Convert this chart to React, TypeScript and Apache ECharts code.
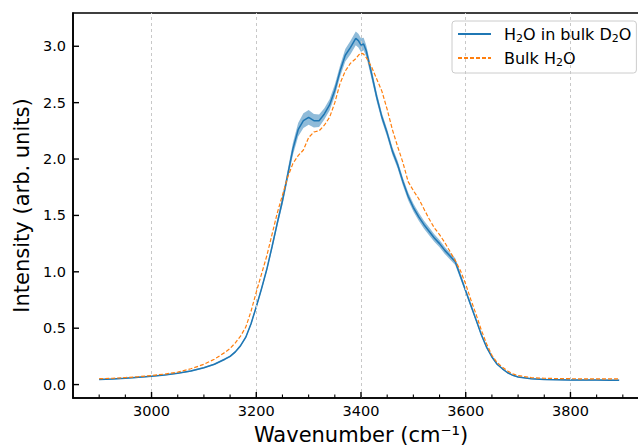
import React, { useEffect, useRef } from 'react';
import * as echarts from 'echarts';

const wavenumbers = [
  2900, 2925, 2950, 2975, 3000, 3025, 3050, 3075, 3100, 3120, 3140, 3150, 3160, 3170, 3180, 3190,
  3200, 3210, 3220, 3230, 3240, 3250, 3260, 3270, 3280, 3290, 3300, 3310, 3320, 3330, 3340, 3350,
  3360, 3370, 3380, 3390, 3395, 3400, 3405, 3410, 3420, 3430, 3440, 3450, 3460, 3470, 3480, 3490,
  3500, 3510, 3520, 3530, 3540, 3550, 3560, 3570, 3580, 3590, 3600, 3610, 3620, 3630, 3640, 3650,
  3660, 3670, 3680, 3690, 3700, 3725, 3750, 3775, 3800, 3825, 3850, 3875, 3893,
];

const h2oInD2O = [
  0.045, 0.05, 0.056, 0.064, 0.074, 0.085, 0.1, 0.12, 0.15, 0.18, 0.225, 0.25, 0.29, 0.345, 0.42, 0.54,
  0.69, 0.85, 1.02, 1.22, 1.43, 1.63, 1.86, 2.09, 2.26, 2.34, 2.37, 2.34, 2.34, 2.4, 2.48, 2.61,
  2.78, 2.92, 2.99, 3.07, 3.05, 3.01, 3.02, 2.96, 2.76, 2.55, 2.37, 2.23, 2.07, 1.95, 1.8, 1.67,
  1.57, 1.49, 1.42, 1.36, 1.3, 1.25, 1.19, 1.14, 1.09, 0.96, 0.83, 0.7, 0.57, 0.44, 0.33, 0.245,
  0.18, 0.14, 0.105, 0.082, 0.068, 0.052, 0.046, 0.043, 0.04, 0.04, 0.04, 0.039, 0.038,
];

const h2oInD2OErr = [
  0.005, 0.005, 0.005, 0.005, 0.005, 0.005, 0.005, 0.006, 0.006, 0.007, 0.008, 0.008, 0.009, 0.01, 0.011, 0.013,
  0.015, 0.018, 0.02, 0.025, 0.03, 0.038, 0.045, 0.055, 0.06, 0.065, 0.065, 0.06, 0.055, 0.05, 0.05, 0.05,
  0.05, 0.055, 0.06, 0.06, 0.06, 0.06, 0.055, 0.05, 0.045, 0.04, 0.035, 0.035, 0.035, 0.035, 0.035, 0.035,
  0.035, 0.035, 0.035, 0.035, 0.033, 0.032, 0.031, 0.03, 0.03, 0.025, 0.02, 0.018, 0.015, 0.013, 0.012, 0.01,
  0.008, 0.007, 0.006, 0.005, 0.005, 0.005, 0.005, 0.005, 0.005, 0.005, 0.005, 0.005, 0.005,
];

const bulkH2O = [
  0.052, 0.056, 0.062, 0.07, 0.08, 0.093, 0.11, 0.14, 0.18, 0.225, 0.285, 0.32, 0.37, 0.43, 0.51, 0.65,
  0.82, 0.98, 1.14, 1.33, 1.52, 1.68, 1.84, 1.96, 2.03, 2.08, 2.19, 2.24, 2.25, 2.3, 2.37, 2.5,
  2.67, 2.78, 2.85, 2.89, 2.92, 2.94, 2.93, 2.9, 2.82, 2.71, 2.6, 2.44, 2.26, 2.11, 1.97, 1.8,
  1.72, 1.65, 1.56, 1.47, 1.39, 1.33, 1.26, 1.18, 1.1, 1.01, 0.89, 0.75, 0.62, 0.48, 0.36, 0.26,
  0.195, 0.155, 0.12, 0.095, 0.08, 0.062, 0.056, 0.053, 0.052, 0.051, 0.051, 0.051, 0.051,
];

const xTicks = [3000, 3200, 3400, 3600, 3800];
const xMinorTicks = [
  2900, 2950, 3050, 3100, 3150, 3250, 3300, 3350, 3450, 3500, 3550, 3650, 3700, 3750, 3850, 3900,
];
const yTicks = [0, 0.5, 1, 1.5, 2, 2.5, 3];

const seriesNames = ['H₂O in bulk D₂O', 'Bulk H₂O'];
const xTitle = 'Wavenumber (cm⁻¹)';
const yTitle = 'Intensity (arb. units)';

const FONT = 'DejaVu Sans';
const X_MIN = 2850;
const X_MAX = 3950;
const Y_MIN = -0.119;
const Y_MAX = 3.295;

export default function App() {
  const ref = useRef<HTMLDivElement>(null);

  useEffect(() => {
    if (!ref.current) return;
    const chart = echarts.init(ref.current, undefined, { renderer: 'svg' });
    const blue = '#1f77b4';
    const orange = '#ff7f0e';

    const tickSeries = (name: string, values: number[], axis: 'x' | 'y', len: number, width: number) => ({
      name,
      type: 'custom',
      z: 10,
      silent: true,
      clip: false,
      data: values.map((v) => (axis === 'x' ? [v, Y_MIN] : [X_MIN, v])),
      encode: { x: 0, y: 1 },
      renderItem: (_params: any, api: any) => {
        const p = api.coord([api.value(0), api.value(1)]);
        const shape =
          axis === 'x'
            ? { x1: p[0], y1: p[1], x2: p[0], y2: p[1] - len }
            : { x1: p[0], y1: p[1], x2: p[0] + len, y2: p[1] };
        return { type: 'line', shape, style: { stroke: '#000', lineWidth: width } };
      },
    });

    const option: any = {
      animation: false,
      backgroundColor: '#ffffff',
      textStyle: { fontFamily: FONT },
      grid: {
        left: 73,
        top: 13,
        width: 576,
        height: 385,
        show: true,
        borderColor: '#000',
        borderWidth: 1.6,
        backgroundColor: 'transparent',
        containLabel: false,
        outerBoundsMode: 'none',
      },
      legend: {
        orient: 'vertical',
        left: 452,
        top: 21,
        padding: [3, 5, 5, 5],
        itemWidth: 33,
        itemHeight: 14,
        itemGap: 4,
        backgroundColor: 'rgba(255,255,255,0.8)',
        borderColor: '#cccccc',
        borderWidth: 1,
        borderRadius: 3,
        data: seriesNames,
        itemStyle: { opacity: 0 },
        formatter: (name: string) => name.replace(/₂/g, '{sub|2}'),
        textStyle: {
          fontFamily: FONT,
          fontSize: 16,
          lineHeight: 20,
          color: '#000',
          padding: [0, 0, 0, 8],
          rich: {
            sub: { fontFamily: FONT, fontSize: 11, lineHeight: 11, verticalAlign: 'bottom', color: '#000' },
          },
        },
      },
      xAxis: {
        type: 'value',
        min: X_MIN,
        max: X_MAX,
        position: 'bottom',
        axisLine: { show: true, onZero: false, lineStyle: { color: '#000', width: 1.6 } },
        axisTick: { show: false },
        axisLabel: {
          customValues: xTicks,
          formatter: (v: number) => String(v),
          fontFamily: FONT,
          fontSize: 14.5,
          color: '#000',
          margin: 5,
        },
        splitLine: { show: false },
        name: xTitle,
        nameLocation: 'middle',
        nameGap: 26,
        nameTextStyle: { fontFamily: FONT, fontSize: 21, color: '#000' },
      },
      yAxis: {
        type: 'value',
        min: Y_MIN,
        max: Y_MAX,
        axisLine: { show: true, onZero: false, lineStyle: { color: '#000', width: 1.6 } },
        axisTick: { show: false },
        axisLabel: {
          customValues: yTicks,
          formatter: (v: number) => v.toFixed(1),
          fontFamily: FONT,
          fontSize: 14.5,
          color: '#000',
          margin: 7,
        },
        splitLine: { show: false },
        name: yTitle,
        nameLocation: 'middle',
        nameGap: 40,
        nameRotate: 90,
        nameTextStyle: { fontFamily: FONT, fontSize: 21, color: '#000' },
      },
      series: [
        {
          name: 'grid',
          type: 'line',
          data: [],
          z: 1,
          silent: true,
          markLine: {
            silent: true,
            symbol: ['none', 'none'],
            label: { show: false },
            lineStyle: { color: '#c8c8c8', width: 1, type: [3, 3] },
            data: xTicks.map((v) => ({ xAxis: v })),
          },
        },
        {
          name: 'band',
          type: 'custom',
          z: 2,
          silent: true,
          data: wavenumbers.map((w, i) => [w, h2oInD2O[i]]),
          encode: { x: 0, y: 1 },
          renderItem: (params: any, api: any) => {
            if (params.dataIndex !== 0) return null;
            const upper = wavenumbers.map((w, i) => api.coord([w, h2oInD2O[i] + h2oInD2OErr[i]]));
            const lower = wavenumbers
              .map((w, i) => api.coord([w, h2oInD2O[i] - h2oInD2OErr[i]]))
              .reverse();
            return {
              type: 'polygon',
              shape: { points: upper.concat(lower) },
              style: { fill: 'rgba(31,119,180,0.5)', stroke: null },
            };
          },
        },
        {
          name: seriesNames[0],
          type: 'line',
          z: 4,
          symbol: 'none',
          showSymbol: false,
          color: blue,
          lineStyle: { color: blue, width: 1.5 },
          data: wavenumbers.map((w, i) => [w, h2oInD2O[i]]),
        },
        {
          name: seriesNames[1],
          type: 'line',
          z: 5,
          symbol: 'none',
          showSymbol: false,
          color: orange,
          lineStyle: { color: orange, width: 1.2, type: [4, 2] },
          data: wavenumbers.map((w, i) => [w, bulkH2O[i]]),
        },
        tickSeries('xMajorTicks', xTicks, 'x', 6, 1.4),
        tickSeries('xMinorTicks', xMinorTicks, 'x', 3.5, 1.1),
        tickSeries('yMajorTicks', yTicks, 'y', 6, 1.4),
      ],
    };

    chart.setOption(option);
    return () => chart.dispose();
  }, []);

  return (
    <div
      style={{
        position: 'fixed',
        left: 0,
        top: 0,
        width: 638,
        height: 447,
        overflow: 'hidden',
        background: '#fff',
      }}
    >
      <div ref={ref} style={{ width: 660, height: 447 }} />
    </div>
  );
}
